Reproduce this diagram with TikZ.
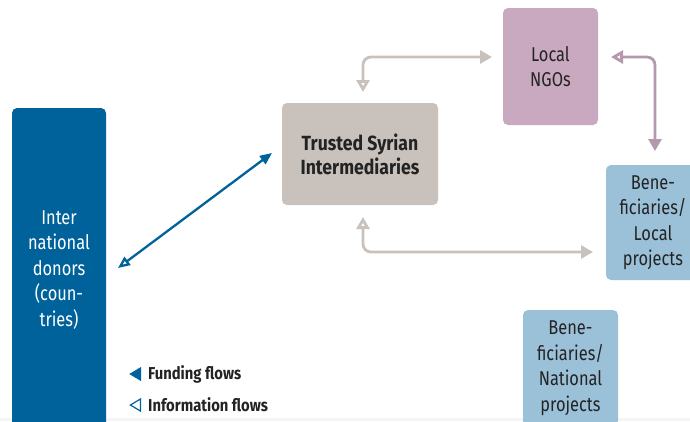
\documentclass[tikz,border=0pt]{standalone}
\usepackage{fontspec}
\setmainfont{Fira Sans}[FakeStretch=0.82,BoldFeatures={FakeStretch=0.86}]
\usetikzlibrary{arrows.meta,shapes.geometric,positioning}
\definecolor{donorblue}{RGB}{0,98,155}
\definecolor{trustgrey}{RGB}{201,193,187}
\definecolor{ngopurple}{RGB}{200,169,192}
\definecolor{benblue}{RGB}{155,193,217}
\definecolor{inkgrey}{RGB}{35,35,35}
\begin{document}
\begin{tikzpicture}[x=1pt,y=-1pt]
        \tikzstyle{actor}=[rounded corners=5pt,align=center,inner sep=0pt,text=inkgrey,font=\fontsize{20}{25.5}\selectfont]
        \tikzstyle{flow}=[line width=2.8pt,rounded corners=8pt,arrows={Triangle[open,length=12pt,width=13pt]-Triangle[length=12pt,width=13pt]}]
        \tikzstyle{key}=[anchor=west,inner sep=0pt,text=inkgrey,font=\fontsize{17.2}{18}\selectfont\bfseries]
        \tikzstyle{keymark}=[isosceles triangle,shape border rotate=180,isosceles triangle apex angle=55,inner sep=0pt,minimum height=10pt,minimum width=12pt,isosceles triangle stretches,draw=donorblue,line width=1.2pt]
        \useasboundingbox (0,0) rectangle (690,421);
        \clip (0,0) rectangle (690,421);
        \fill[black!4] (0,418) rectangle (690,421);
       \begin{scope}
         \node [actor,fill=donorblue,text=white,minimum width=94pt,minimum height=324pt] (donors) at (59,270) {Inter\\national\\donors\\(coun-\\tries)};
         \node [actor,fill=trustgrey,minimum width=156pt,minimum height=102pt,font=\fontsize{20.5}{24}\selectfont\bfseries] (trusted) at (360,154) {Trusted Syrian\\Intermediaries};
         \node [actor,fill=ngopurple,minimum width=95pt,minimum height=117pt] (ngos) at (550.5,66.5) {Local\\NGOs};
         \node [actor,fill=benblue,minimum width=94pt,minimum height=115pt] (benlocal) at (653,222.5) {Bene-\\ficiaries/\\Local\\projects};
         \node [actor,fill=benblue,minimum width=95pt,minimum height=116pt] (bennational) at (570.5,368) {Bene-\\ficiaries/\\National\\projects};
         % free ends of the flows
         \coordinate (d1) at (118,268);
         \coordinate (t1) at (272,153);
         \coordinate (t2) at (363,92);
         \coordinate (n1) at (492,57);
         \coordinate (t3) at (363,217);
         \coordinate (b1) at (593,252);
         \coordinate (n2) at (611,57);
         \coordinate (b2) at (655,151);
         \draw [line width=2.3pt,draw=donorblue,arrows={Triangle[open,length=12pt,width=10pt]-Triangle[length=12pt,width=10pt]}] (d1) -- (t1);
         \draw [flow,draw=trustgrey] (t2) |- (n1);
         \draw [flow,draw=trustgrey] (t3) |- (b1);
         \draw [flow,draw=ngopurple!90!black] (n2) -| (b2);
         % legend
         \node [key] (fundkey) at (148,374) {Funding flows};
         \node [key] (infokey) at (148,405) {Information flows};
         \node [keymark,fill=donorblue,left=7pt of fundkey.west,anchor=east] (fundmark) {};
         \node [keymark,fill=white,left=7pt of infokey.west,anchor=east] (infomark) {};
        \end{scope}
      \end{tikzpicture}
\end{document}
